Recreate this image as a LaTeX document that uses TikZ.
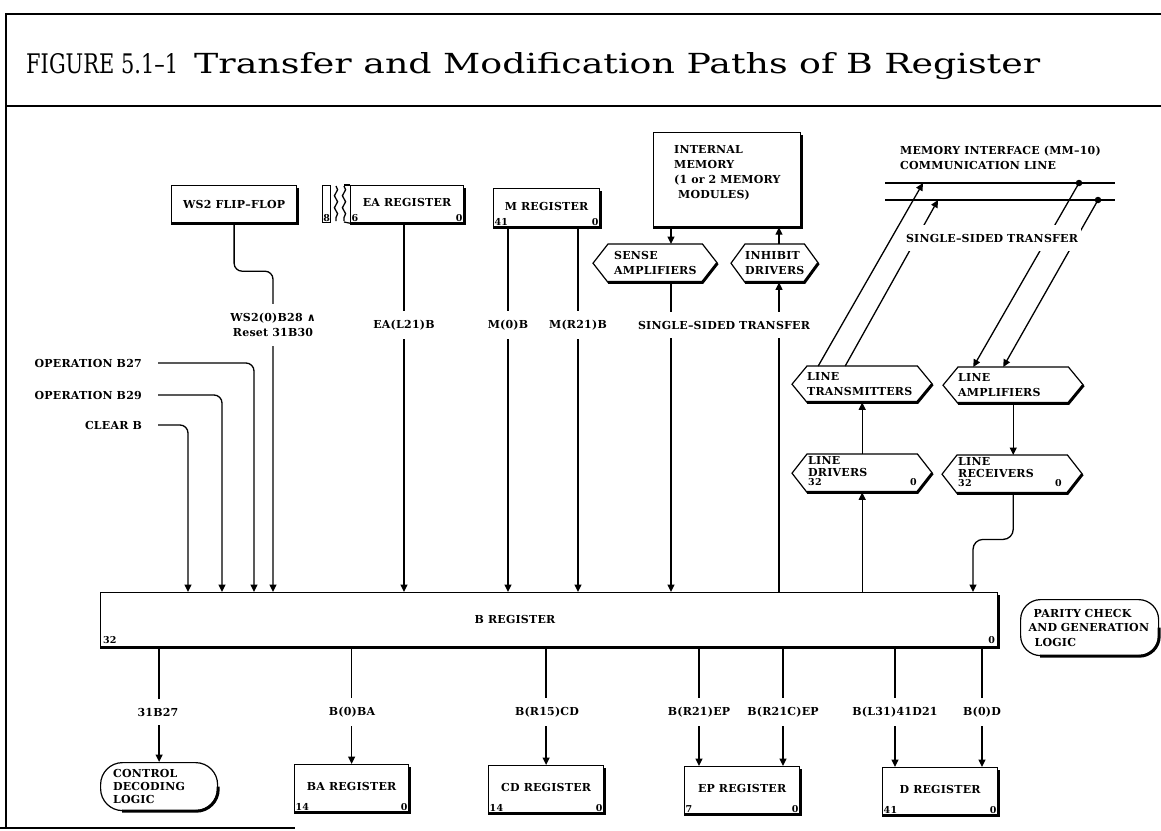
\documentclass[tikz,border=0pt]{standalone}
\usepackage{fontspec}
\setmainfont{DejaVu Serif}
\newfontfamily\labfam{DejaVu Serif}[LetterSpace=2]
\newfontfamily\symfont{DejaVu Sans}
\usetikzlibrary{arrows.meta,decorations.pathmorphing}

\tikzset{
  wire/.style={line width=1.3pt},
  arr/.style={wire,-{Triangle[length=7.5pt,width=7pt]}},
  boxline/.style={line width=1.2pt},
  heavyedge/.style={line width=3pt},
  labfont/.style={font=\labfam\bfseries\fontsize{11}{15}\selectfont},
  txt/.style={labfont, inner sep=0pt},
  regbox/.style={draw, boxline, labfont, anchor=north west, inner sep=0pt},
  bitno/.style={font=\labfam\bfseries\fontsize{9.5}{9.5}\selectfont, inner sep=1.5pt},
  sig/.style={labfont, fill=white, inner xsep=3pt, inner ysep=9pt, align=center},
  hexnode/.style={labfont, anchor=north west, inner sep=0pt, align=left},
  roundbox/.style={draw, boxline, labfont, anchor=north west, inner sep=0pt, align=left},
}

% heavy right and bottom edge of a box
\newcommand\dropedge[1]{\draw[heavyedge] ([yshift=-3pt]#1.north east) -- (#1.south east) -- (#1.south west);}
% hexagonal outline drawn around a node, #2 = depth of the side points
\newcommand\hexout[2]{%
  \draw[boxline] (#1.west) -- ([xshift=#2]#1.north west) -- ([xshift=-#2]#1.north east) -- (#1.east)
     -- ([xshift=-#2]#1.south east) -- ([xshift=#2]#1.south west) -- cycle;
  \draw[heavyedge] (#1.east) -- ([xshift=-#2]#1.south east) -- ([xshift=#2]#1.south west);}

\begin{document}
\begin{tikzpicture}[x=1pt,y=-1pt]
\useasboundingbox (0,0) rectangle (1161,830);

% ---------- page frame and title strip
\draw[boxline] (6,828) -- (6,14) -- (1161,14);
\draw[boxline] (6,106) -- (1161,106);
\draw[boxline] (0,828) -- (295,828);
\node[anchor=base west, inner sep=0pt] (title-num) at (26,73)
  {\resizebox{152pt}{20pt}{FIGURE 5.1–1}};
\node[anchor=base west, inner sep=0pt] (title-text) at (194,73)
  {\resizebox{846pt}{21pt}{Transfer and Modification Paths of B Register}};

% ---------- column positions of the transfer paths
\coordinate (c-clr) at (188,0);
\coordinate (c-29)  at (222,0);
\coordinate (c-27)  at (254,0);
\coordinate (c-ws2) at (273,0);
\coordinate (c-ea)  at (404,0);
\coordinate (c-m0)  at (508,0);
\coordinate (c-mr)  at (578,0);
\coordinate (c-sa)  at (671,0);
\coordinate (c-ih)  at (779,0);
\coordinate (c-rx)  at (973,0);
\coordinate (c-ep1) at (699,0);
\coordinate (c-ep2) at (783,0);
\coordinate (c-d1)  at (895,0);
\coordinate (c-d2)  at (982,0);

% ---------- upper registers
\node[regbox, minimum width=125pt, minimum height=37pt] (ws2) at (171,185) {WS2 FLIP–FLOP};
\dropedge{ws2}

\node[regbox, minimum width=8pt, minimum height=37pt] (ea-ext) at (322,185) {};
\node[bitno, anchor=south, inner sep=1pt] (ea-ext-bit) at (ea-ext.south) {8};
\node[regbox, minimum width=113pt, minimum height=37pt] (ea) at (350,185) {\raisebox{3pt}{EA REGISTER}};
\dropedge{ea}
\draw[wire, decorate, decoration={snake, amplitude=1.6pt, segment length=12pt}] (336,186) -- (336,221);
\draw[wire, decorate, decoration={snake, amplitude=1.6pt, segment length=12pt}] (344,186) -- (344,221);
\draw[boxline] (344,185) -- (ea.north west);
\draw[boxline] (344,222) -- (ea.south west);
\node[bitno, anchor=south west] (ea-hi) at (ea.south west) {6};
\node[bitno, anchor=south east] (ea-lo) at (ea.south east) {0};

\node[regbox, minimum width=106pt, minimum height=38pt] (mreg) at (493,188) {\raisebox{3pt}{M REGISTER}};
\dropedge{mreg}
\node[bitno, anchor=south west] (mreg-hi) at (mreg.south west) {41};
\node[bitno, anchor=south east] (mreg-lo) at (mreg.south east) {0};

\node[regbox, minimum width=147pt, minimum height=94pt] (mem) at (653,132) {};
\dropedge{mem}
\node[txt, anchor=north west, align=left] (mem-text) at (674,145.5)
  {INTERNAL\\MEMORY\\(1 or 2 MEMORY\\\hspace*{4pt}MODULES)};

\node[hexnode, text width=82pt, minimum width=124pt, minimum height=38pt] (sa) at (593,244) {SENSE\\AMPLIFIERS};
\hexout{sa}{15pt}
\node[hexnode, text width=59pt, minimum width=87pt, minimum height=38pt] (ih) at (731,244) {INHIBIT\\DRIVERS};
\hexout{ih}{14pt}

% ---------- memory interface lines
\node[txt, anchor=north west, align=left] (mi-text) at (900,146)
  {MEMORY INTERFACE (MM–10)\\COMMUNICATION LINE};
\coordinate (ml1w) at (885,183);
\coordinate (ml1e) at (1115,183);
\coordinate (ml2w) at (885,200);
\coordinate (ml2e) at (1115,200);
\draw[wire] (ml1w) -- (ml1e);
\draw[wire] (ml2w) -- (ml2e);
\coordinate (tx1) at (923,183);
\coordinate (tx2) at (938,200);
\node[circle, fill, inner sep=0pt, minimum size=6.5pt] (rx1) at (1079,183) {};
\node[circle, fill, inner sep=0pt, minimum size=6.5pt] (rx2) at (1098,200) {};

\node[hexnode, text width=110pt, minimum width=140pt, minimum height=36pt] (lt) at (792,366) {LINE\\TRANSMITTERS};
\hexout{lt}{15pt}
\node[hexnode, text width=110pt, minimum width=140pt, minimum height=36pt] (la) at (943,367) {LINE\\AMPLIFIERS};
\hexout{la}{15pt}

\node[hexnode, minimum width=140pt, minimum height=38pt] (ld) at (792,454) {};
\hexout{ld}{15pt}
\node[txt, anchor=base west] (ld-t1) at (808,464) {LINE};
\node[txt, anchor=base west] (ld-t2) at (808,476) {DRIVERS};
\node[bitno, anchor=base west, inner sep=0pt] (ld-hi) at (808,485) {32};
\node[bitno, anchor=base west, inner sep=0pt] (ld-lo) at (910,485) {0};

\node[hexnode, minimum width=140pt, minimum height=38pt] (lr) at (942,455) {};
\hexout{lr}{15pt}
\node[txt, anchor=base west] (lr-t1) at (958,465) {LINE};
\node[txt, anchor=base west] (lr-t2) at (958,477) {RECEIVERS};
\node[bitno, anchor=base west, inner sep=0pt] (lr-hi) at (958,486) {32};
\node[bitno, anchor=base west, inner sep=0pt] (lr-lo) at (1055,486) {0};

% ---------- control inputs on the left
\node[txt, anchor=east] (op27) at (142,363) {OPERATION B27};
\node[txt, anchor=east] (op29) at (142,395) {OPERATION B29};
\node[txt, anchor=east] (clrb) at (142,425) {CLEAR B};

% ---------- B register
\node[regbox, minimum width=897pt, minimum height=54pt] (breg) at (100,592) {};
\dropedge{breg}
\node[txt] (breg-name) at (515,619) {B REGISTER};
\node[bitno, anchor=south west, inner sep=3pt] (breg-hi) at (breg.south west) {32};
\node[bitno, anchor=south east, inner sep=3pt] (breg-lo) at (breg.south east) {0};

\node[roundbox, rounded corners=20pt, text width=122pt, minimum width=138pt, minimum height=56pt,
      font=\labfam\bfseries\fontsize{11}{14.5}\selectfont] (par) at (1020,599)
  {\hspace*{5pt}PARITY CHECK\\AND GENERATION\\\hspace*{6pt}LOGIC};
\draw[heavyedge, rounded corners=20pt] (par.east) |- ([xshift=20pt]par.south west);

% ---------- lower registers
\node[roundbox, rounded corners=22pt, text width=92pt, minimum width=117pt, minimum height=48pt,
      font=\labfam\bfseries\fontsize{11}{13}\selectfont] (cdl) at (100,762)
  {CONTROL\\DECODING\\LOGIC};
\draw[heavyedge, rounded corners=22pt] (cdl.east) |- ([xshift=22pt]cdl.south west);

\node[regbox, minimum width=114pt, minimum height=47pt] (ba) at (294,764) {\raisebox{4pt}{BA REGISTER}};
\dropedge{ba}
\node[bitno, anchor=south west] (ba-hi) at (ba.south west) {14};
\node[bitno, anchor=south east] (ba-lo) at (ba.south east) {0};

\node[regbox, minimum width=115pt, minimum height=47pt] (cd) at (488,765) {\raisebox{4pt}{CD REGISTER}};
\dropedge{cd}
\node[bitno, anchor=south west] (cd-hi) at (cd.south west) {14};
\node[bitno, anchor=south east] (cd-lo) at (cd.south east) {0};

\node[regbox, minimum width=115pt, minimum height=47pt] (ep) at (684,766) {\raisebox{4pt}{EP REGISTER}};
\dropedge{ep}
\node[bitno, anchor=south west] (ep-hi) at (ep.south west) {7};
\node[bitno, anchor=south east] (ep-lo) at (ep.south east) {0};

\node[regbox, minimum width=115pt, minimum height=47pt] (dreg) at (882,767) {\raisebox{4pt}{D REGISTER}};
\dropedge{dreg}
\node[bitno, anchor=south west] (dreg-hi) at (dreg.south west) {41};
\node[bitno, anchor=south east] (dreg-lo) at (dreg.south east) {0};

% ---------- transfers into B
\draw[arr, rounded corners=8pt] (ws2.south) -- ++(0,48) -| (breg.north -| c-ws2);
\draw[arr, rounded corners=8pt] ([xshift=16pt]op27.east) -| (breg.north -| c-27);
\draw[arr, rounded corners=8pt] ([xshift=16pt]op29.east) -| (breg.north -| c-29);
\draw[arr, rounded corners=8pt] ([xshift=16pt]clrb.east) -| (breg.north -| c-clr);
\draw[arr] (ea.south -| c-ea) -- (breg.north -| c-ea);
\draw[arr] (mreg.south -| c-m0) -- (breg.north -| c-m0);
\draw[arr] (mreg.south -| c-mr) -- (breg.north -| c-mr);
\draw[arr] (mem.south -| c-sa) -- (sa.north -| c-sa);
\draw[arr] (sa.south -| c-sa) -- (breg.north -| c-sa);
\draw[arr] (breg.north -| c-ih) -- (ih.south -| c-ih);
\draw[arr] (ih.north -| c-ih) -- (mem.south -| c-ih);

% ---------- line drivers / receivers
\draw[arr] (breg.north -| ld.south) -- (ld.south);
\draw[arr] (ld.north) -- (lt.south);
\draw[arr] ([xshift=-44pt]lt.north) -- (tx1);
\draw[arr] ([xshift=-17pt]lt.north) -- (tx2);
\draw[arr] (rx1.center) -- ([xshift=-40pt]la.north);
\draw[arr] (rx2.center) -- ([xshift=-10pt]la.north);
\draw[arr] (la.south) -- (lr.north -| la.south);
\draw[arr, rounded corners=10pt] (lr.south -| la.south) -- ++(0,46) -| (breg.north -| c-rx);

% ---------- transfers out of B
\draw[arr] (breg.south -| cdl.north) -- (cdl.north);
\draw[arr] (breg.south -| ba.north) -- (ba.north);
\draw[arr] (breg.south -| cd.north) -- (cd.north);
\draw[arr] (breg.south -| c-ep1) -- (ep.north -| c-ep1);
\draw[arr] (breg.south -| c-ep2) -- (ep.north -| c-ep2);
\draw[arr] (breg.south -| c-d1) -- (dreg.north -| c-d1);
\draw[arr] (breg.south -| c-d2) -- (dreg.north -| c-d2);

% ---------- transfer labels
\node[sig] (l-ws2) at (273,325) {WS2(0)B28 {\symfont ∧}\\Reset 31B30};
\node[sig] (l-ea) at (404,325) {EA(L21)B};
\node[sig] (l-m0) at (508,325) {M(0)B};
\node[sig] (l-mr) at (578,325) {M(R21)B};
\node[sig] (l-mem) at (724,325) {SINGLE–SIDED TRANSFER};
\node[sig] (l-mi) at (992,238) {SINGLE–SIDED TRANSFER};
\node[sig] (l-cdl) at (158,712) {31B27};
\node[sig] (l-ba) at (352,712) {B(0)BA};
\node[sig] (l-cd) at (547,712) {B(R15)CD};
\node[sig] (l-ep1) at (699,712) {B(R21)EP};
\node[sig] (l-ep2) at (783,712) {B(R21C)EP};
\node[sig] (l-d1) at (895,712) {B(L31)41D21};
\node[sig] (l-d2) at (982,712) {B(0)D};
\end{tikzpicture}
\end{document}
